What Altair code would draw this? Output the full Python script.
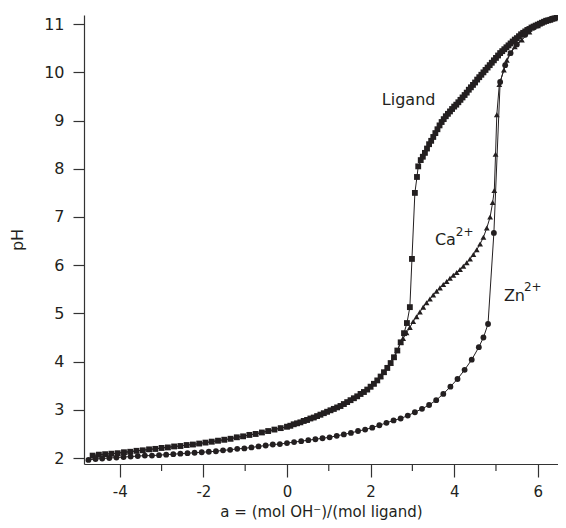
import altair as alt
import pandas as pd

INK = "#231f20"
AXIS = "#333333"
FONT = "DejaVu Sans"

# ---- data (a = mol OH- / mol ligand, pH) ----
shared_a = [-4.65, -4.50, -4.35, -4.20, -4.05, -3.90, -3.75, -3.60, -3.45, -3.30,
            -3.15, -3.00, -2.85, -2.70, -2.55, -2.40, -2.25, -2.10, -1.95, -1.80,
            -1.65, -1.50, -1.35, -1.20, -1.05, -0.90, -0.75, -0.60, -0.45, -0.30,
            -0.15, 0.00, 0.08, 0.16, 0.24, 0.32, 0.40, 0.48, 0.56, 0.64,
            0.72, 0.80, 0.88, 0.96, 1.04, 1.12, 1.20, 1.28, 1.36, 1.44,
            1.52, 1.60, 1.68, 1.76, 1.84, 1.92, 2.00, 2.08, 2.16, 2.24,
            2.32, 2.40, 2.48, 2.56, 2.64, 2.72]
shared_ph = [2.05, 2.07, 2.08, 2.09, 2.10, 2.12, 2.13, 2.15, 2.16, 2.18,
             2.19, 2.21, 2.22, 2.24, 2.25, 2.27, 2.28, 2.30, 2.32, 2.34,
             2.36, 2.38, 2.40, 2.43, 2.45, 2.48, 2.50, 2.53, 2.56, 2.59,
             2.62, 2.65, 2.67, 2.70, 2.72, 2.74, 2.77, 2.79, 2.82, 2.84,
             2.87, 2.90, 2.93, 2.96, 2.99, 3.02, 3.05, 3.08, 3.12, 3.16,
             3.20, 3.24, 3.28, 3.33, 3.37, 3.42, 3.48, 3.54, 3.61, 3.69,
             3.78, 3.87, 3.97, 4.09, 4.23, 4.40]

ligand_a = shared_a + [2.80, 2.87, 2.94, 2.99, 3.06, 3.11, 3.14,
                       3.20, 3.25, 3.30, 3.35, 3.40, 3.45, 3.50, 3.55, 3.60, 3.65,
                       3.70, 3.75, 3.80, 3.85, 3.90, 3.95, 4.00, 4.05, 4.10, 4.15,
                       4.20, 4.25, 4.30, 4.35, 4.40, 4.45, 4.50, 4.55, 4.60, 4.65,
                       4.70, 4.75, 4.80, 4.85, 4.90, 4.95, 5.00, 5.05, 5.10, 5.15,
                       5.20, 5.25, 5.30, 5.35, 5.40, 5.45, 5.50, 5.55, 5.60, 5.65,
                       5.70, 5.75, 5.80, 5.85, 5.90, 5.95, 6.00, 6.05, 6.10, 6.15,
                       6.20, 6.25, 6.30, 6.35, 6.40, 6.45, 6.50]
ligand_ph = shared_ph + [4.59, 4.80, 5.13, 6.13, 7.50, 7.83, 8.05,
                         8.18, 8.25, 8.33, 8.42, 8.51, 8.58, 8.66, 8.74, 8.82, 8.90,
                         8.97, 9.03, 9.09, 9.14, 9.19, 9.24, 9.29, 9.33, 9.38, 9.43,
                         9.48, 9.53, 9.58, 9.64, 9.69, 9.74, 9.79, 9.85, 9.90, 9.95,
                         10.00, 10.05, 10.10, 10.15, 10.20, 10.25, 10.30, 10.35, 10.40, 10.44,
                         10.48, 10.52, 10.56, 10.60, 10.64, 10.68, 10.71, 10.75, 10.79, 10.82,
                         10.85, 10.88, 10.90, 10.93, 10.95, 10.97, 10.99, 11.01, 11.03, 11.05,
                         11.07, 11.08, 11.09, 11.11, 11.12, 11.14, 11.16]

ca_a = shared_a + [2.78, 2.86, 2.94, 3.02, 3.10, 3.18, 3.26, 3.34, 3.42, 3.50,
                   3.58, 3.66, 3.74, 3.82, 3.90, 3.98, 4.06, 4.14, 4.22, 4.30,
                   4.38, 4.46, 4.54, 4.62, 4.70, 4.78, 4.86, 4.92, 4.96, 4.99,
                   5.02, 5.08, 5.19, 5.26, 5.33, 5.45, 5.62, 5.80, 6.00, 6.20,
                   6.40, 6.60]
ca_ph = shared_ph + [4.48, 4.60, 4.71, 4.83, 4.93, 5.03, 5.13, 5.22, 5.30, 5.38,
                     5.46, 5.53, 5.60, 5.66, 5.73, 5.79, 5.85, 5.91, 5.98, 6.05,
                     6.13, 6.22, 6.32, 6.44, 6.58, 6.77, 7.00, 7.30, 7.55, 8.30,
                     9.12, 9.75, 10.05, 10.25, 10.40, 10.53, 10.67, 10.84, 10.97, 11.06,
                     11.12, 11.19]

zn_a = [-4.75, -4.58, -4.42, -4.25, -4.08, -3.91, -3.74, -3.57, -3.40, -3.23,
        -3.06, -2.89, -2.72, -2.55, -2.38, -2.21, -2.04, -1.87, -1.70, -1.53,
        -1.36, -1.19, -1.02, -0.85, -0.68, -0.51, -0.34, -0.17, 0.00, 0.17,
        0.34, 0.51, 0.68, 0.85, 1.02, 1.19, 1.36, 1.53, 1.70, 1.87,
        2.04, 2.21, 2.38, 2.55, 2.72, 2.89, 3.06, 3.23, 3.40, 3.57,
        3.74, 3.91, 4.08, 4.25, 4.42, 4.59, 4.70, 4.81, 4.95, 5.10,
        5.22, 5.35, 5.50, 5.70, 5.90, 6.10, 6.30, 6.50, 6.65]
zn_ph = [1.96, 1.98, 1.99, 2.00, 2.01, 2.02, 2.03, 2.04, 2.05, 2.05,
         2.06, 2.07, 2.08, 2.09, 2.10, 2.11, 2.12, 2.13, 2.14, 2.16,
         2.17, 2.19, 2.20, 2.22, 2.24, 2.26, 2.28, 2.29, 2.31, 2.33,
         2.35, 2.37, 2.39, 2.41, 2.43, 2.46, 2.49, 2.52, 2.56, 2.59,
         2.63, 2.68, 2.73, 2.78, 2.82, 2.88, 2.95, 3.02, 3.10, 3.20,
         3.33, 3.48, 3.64, 3.83, 4.04, 4.30, 4.50, 4.78, 6.67, 9.80,
         10.15, 10.40, 10.58, 10.78, 10.93, 11.03, 11.10, 11.16, 11.20]

series_names = ["Ligand", "Ca", "Zn"]
series_shapes = ["square", "triangle-up", "circle"]
series_sizes = [34, 34, 38]

x_ticks = [-4, -2, 0, 2, 4, 6]
x_minor_ticks = [-3, -1, 1, 3, 5]
y_ticks = [2, 3, 4, 5, 6, 7, 8, 9, 10, 11]

label_text = ["Ligand", "Ca", "Zn"]
label_a = [2.27, 3.54, 5.19]
label_ph = [9.43, 6.52, 5.36]
sup_text = ["2+", "2+"]
sup_a = [4.04, 5.67]
sup_ph = [6.69, 5.55]

# ---- build tables ----
rows = []
for name, xs, ys in [("Ligand", ligand_a, ligand_ph), ("Ca", ca_a, ca_ph), ("Zn", zn_a, zn_ph)]:
    for i, (xv, yv) in enumerate(zip(xs, ys)):
        rows.append({"series": name, "a": xv, "pH": yv, "i": i})
df = pd.DataFrame(rows)

x_scale = alt.Scale(domain=[-4.856, 6.484], nice=False, zero=False)
y_scale = alt.Scale(domain=[1.876, 11.19], nice=False, zero=False)

x_enc = alt.X("a:Q", scale=x_scale,
              axis=alt.Axis(values=x_ticks, title="a = (mol OH⁻)/(mol ligand)",
                            grid=False, tickSize=13, labelPadding=7, labelFontSize=15,
                            labelExpr="toString(datum.value)",
                            titleY=52, titleBaseline="alphabetic", titleFontSize=15))
y_enc = alt.Y("pH:Q", scale=y_scale,
              axis=alt.Axis(values=y_ticks, title="pH", grid=False, tickSize=11,
                            labelPadding=9, titlePadding=18,
                            labelExpr="toString(datum.value)"))

lines = alt.Chart(df).mark_line(color=INK, strokeWidth=1, clip=True).encode(
    x=x_enc, y=y_enc, detail="series:N", order="i:Q")

points = alt.Chart(df).mark_point(filled=True, opacity=1, color=INK, clip=True).encode(
    x="a:Q", y="pH:Q",
    shape=alt.Shape("series:N", scale=alt.Scale(domain=series_names, range=series_shapes), legend=None),
    size=alt.Size("series:N", scale=alt.Scale(domain=series_names, range=series_sizes), legend=None),
)

minor = alt.Chart(pd.DataFrame({"a": x_minor_ticks})).mark_rule(color=AXIS, strokeWidth=1.2).encode(
    x="a:Q", y=alt.value(449), y2=alt.value(456))

labels = alt.Chart(pd.DataFrame({"t": label_text, "a": label_a, "pH": label_ph})).mark_text(
    align="left", baseline="middle", fontSize=16, font=FONT, color=INK).encode(
    x="a:Q", y="pH:Q", text="t:N")

sups = alt.Chart(pd.DataFrame({"t": sup_text, "a": sup_a, "pH": sup_ph})).mark_text(
    align="left", baseline="middle", fontSize=12, font=FONT, color=INK).encode(
    x="a:Q", y="pH:Q", text="t:N")

chart = alt.layer(lines, points, minor, labels, sups).properties(
    width=474, height=449,
    autosize=alt.AutoSizeParams(type="none"),
    padding={"left": 76, "top": 7, "right": 0, "bottom": 56},
).configure_view(stroke=None).configure_axis(
    domainColor=AXIS, tickColor=AXIS, labelColor=INK, titleColor=INK,
    labelFont=FONT, titleFont=FONT, labelFontSize=16, titleFontSize=16,
    titleFontWeight="normal", domainWidth=1.2, tickWidth=1.2,
)

chart.save("out.html", embed_options={"renderer": "svg", "actions": False})
